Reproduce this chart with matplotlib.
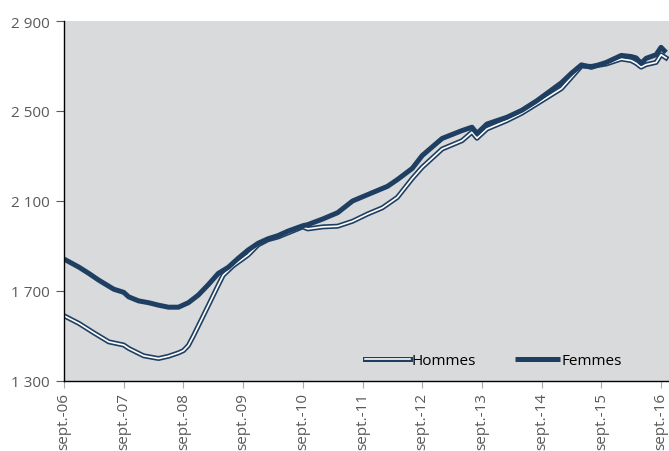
import matplotlib
matplotlib.use('Agg')
import matplotlib.pyplot as plt
import matplotlib.patheffects as pe
import numpy as np

plt.rcParams['font.family'] = ['Open Sans', 'DejaVu Sans']

# months counted from sept. 2006
months_f = [0, 3, 5, 7, 10, 12, 13, 15, 17, 19, 21, 23, 25, 27, 29, 31, 33, 35,
            37, 39, 41, 43, 45, 48, 49, 52, 55, 58, 61, 65, 67, 70, 72, 74, 76,
            80, 82, 83, 85, 89, 92, 95, 100, 102, 104, 106, 109, 112, 114, 115,
            116, 117, 119, 120, 121]
femmes = [1842, 1806, 1778, 1748, 1708, 1694, 1674, 1656, 1648, 1637, 1628,
          1628, 1648, 1682, 1728, 1778, 1805, 1845, 1882, 1912, 1932, 1946,
          1966, 1990, 1995, 2020, 2048, 2100, 2128, 2165, 2195, 2245, 2302,
          2340, 2378, 2413, 2428, 2400, 2442, 2472, 2503, 2545, 2626, 2668,
          2705, 2694, 2716, 2747, 2742, 2736, 2712, 2734, 2750, 2783, 2760]

months_h = [0, 3, 6, 9, 12, 13, 16, 19, 21, 23, 24, 25, 26, 27, 29, 31, 32, 34,
            37, 39, 41, 43, 45, 48, 49, 52, 55, 58, 61, 64, 67, 70, 72, 76, 80,
            82, 83, 85, 89, 92, 95, 100, 102, 104, 106, 109, 112, 114, 115, 116,
            117, 119, 120, 121]
hommes = [1590, 1556, 1514, 1474, 1460, 1445, 1412, 1400, 1410, 1425, 1435,
          1458, 1500, 1545, 1635, 1726, 1770, 1812, 1860, 1905, 1928, 1940,
          1958, 1985, 1976, 1985, 1988, 2010, 2042, 2070, 2116, 2200, 2250,
          2331, 2368, 2406, 2379, 2420, 2457, 2490, 2531, 2600, 2650, 2700,
          2698, 2709, 2731, 2724, 2712, 2695, 2706, 2716, 2750, 2736]

tick_months = np.arange(0, 121, 12)
tick_labels = ['sept.-%02d' % (6 + i) for i in range(len(tick_months))]
y_ticks = [1300, 1700, 2100, 2500, 2900]

dark = '#1f3f62'
grey = '#5a5a5a'

fig = plt.figure(figsize=(6.69, 4.52), dpi=100)
ax = fig.add_axes([64/669, 1 - 382/452, 1 - 64/669, 360/452])
ax.set_facecolor('#d9dadc')

ax.plot(months_h, hommes, color='white', linewidth=1.2, label='Hommes',
        path_effects=[pe.Stroke(linewidth=3.6, foreground=dark), pe.Normal()])
ax.plot(months_f, femmes, color=dark, linewidth=3.6, label='Femmes',
        solid_capstyle='butt')

ax.set_xlim(0, 121.6)
ax.set_ylim(1300, 2900)
ax.set_yticks(y_ticks)
ax.set_yticklabels([f'{v:,}'.replace(',', ' ') for v in y_ticks])
ax.set_xticks(tick_months)
ax.set_xticklabels(tick_labels, rotation=90, va='top', ha='center')

for s in ['top', 'right']:
    ax.spines[s].set_visible(False)
for s in ['left', 'bottom']:
    ax.spines[s].set_color('black')
    ax.spines[s].set_linewidth(1.0)

ax.tick_params(axis='y', length=6, color=grey, labelcolor=grey, labelsize=11, pad=4)
ax.tick_params(axis='x', length=5, color='#aaaaaa', labelcolor=grey, labelsize=11, pad=3)

ax.legend(loc='center left', bbox_to_anchor=(0.497, 0.056), ncol=2,
          frameon=False, fontsize=11, handlelength=2.95, handletextpad=0.1,
          columnspacing=2.6, borderpad=0, borderaxespad=0)

fig.savefig('out.png', dpi=100)
